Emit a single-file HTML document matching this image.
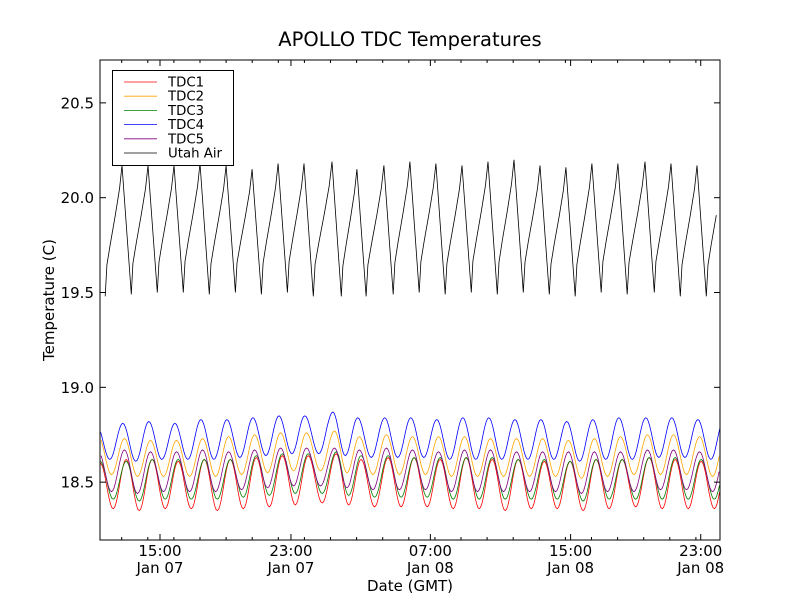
<!DOCTYPE html>
<html><head><meta charset="utf-8"><style>
body{margin:0;background:#fff;}
svg{display:block;font-family:"DejaVu Sans","Liberation Sans",sans-serif;}
</style></head><body>
<svg id="chart" width="800" height="600" viewBox="0 0 800 600">
<rect width="800" height="600" fill="#fff"/>
<text x="410" y="46" font-size="19.5" text-anchor="middle">APOLLO TDC Temperatures</text>
<g id="series"></g>
<g id="axes"></g>
<rect x="100" y="60" width="620" height="480" fill="none" stroke="#000" stroke-width="1"/>
<text x="410" y="591" font-size="15" text-anchor="middle">Date (GMT)</text>
<text x="54" y="300" font-size="15" text-anchor="middle" transform="rotate(-90 54 300)">Temperature (C)</text>
<g id="legend">
<rect x="112.5" y="70.5" width="121" height="95" fill="#fff" stroke="#000" stroke-width="1"/>
</g>
</svg>
<script>
// ---- data ----
const yTicks = [18.5, 19.0, 19.5, 20.0, 20.5];
const xTickHours = [3.55, 11.3, 19.55, 27.85, 35.55];
const xTickTimes = ["15:00", "23:00", "07:00", "15:00", "23:00"];
const xTickDates = ["Jan 07", "Jan 07", "Jan 08", "Jan 08", "Jan 08"];
const airPeakHours = [-0.24,1.30,2.84,4.38,5.92,7.46,9.0,10.54,12.07,13.73,15.2,16.8,18.34,19.88,21.42,22.96,24.5,26.04,27.57,29.11,30.65,32.25,33.79,35.33,36.87];
const airPeaks = [20.17,20.17,20.17,20.17,20.18,20.17,20.15,20.18,20.18,20.19,20.15,20.17,20.19,20.18,20.17,20.19,20.2,20.17,20.16,20.18,20.18,20.19,20.18,20.17,20.17];
const airTroughs = [19.48,19.49,19.50,19.50,19.49,19.50,19.49,19.50,19.48,19.48,19.48,19.49,19.50,19.49,19.50,19.49,19.50,19.49,19.48,19.50,19.49,19.50,19.48,19.48,19.50];
const tdc1Peaks = [18.60,18.62,18.62,18.61,18.62,18.62,18.63,18.64,18.64,18.65,18.62,18.63,18.63,18.62,18.63,18.62,18.62,18.61,18.61,18.62,18.62,18.63,18.62,18.61,18.61];
const tdc1Troughs = [18.36,18.35,18.36,18.36,18.35,18.36,18.37,18.38,18.39,18.38,18.37,18.37,18.37,18.36,18.36,18.35,18.36,18.36,18.35,18.36,18.37,18.36,18.36,18.36,18.36];
const tdc2Peaks = [18.74,18.73,18.72,18.72,18.73,18.74,18.75,18.76,18.76,18.77,18.74,18.75,18.74,18.74,18.74,18.73,18.73,18.73,18.72,18.73,18.74,18.75,18.75,18.74,18.74];
const tdc2Troughs = [18.54,18.53,18.53,18.53,18.53,18.54,18.55,18.56,18.56,18.55,18.54,18.54,18.54,18.53,18.53,18.53,18.53,18.53,18.52,18.53,18.54,18.54,18.54,18.53,18.53];
const tdc3Peaks = [18.61,18.61,18.62,18.62,18.62,18.62,18.64,18.65,18.65,18.66,18.64,18.64,18.63,18.63,18.63,18.63,18.62,18.62,18.61,18.62,18.62,18.63,18.63,18.62,18.62];
const tdc3Troughs = [18.41,18.40,18.41,18.41,18.41,18.42,18.43,18.44,18.44,18.43,18.42,18.42,18.42,18.41,18.41,18.41,18.41,18.41,18.40,18.41,18.41,18.41,18.41,18.41,18.41];
const tdc4Peaks = [18.80,18.81,18.82,18.81,18.83,18.83,18.84,18.85,18.85,18.87,18.84,18.84,18.84,18.83,18.84,18.84,18.83,18.83,18.82,18.83,18.84,18.84,18.84,18.83,18.83];
const tdc4Troughs = [18.62,18.61,18.62,18.62,18.62,18.63,18.64,18.65,18.65,18.64,18.63,18.63,18.63,18.62,18.62,18.62,18.62,18.62,18.61,18.62,18.62,18.63,18.63,18.62,18.62];
const tdc5Peaks = [18.66,18.67,18.66,18.66,18.67,18.66,18.67,18.68,18.68,18.68,18.67,18.68,18.67,18.66,18.67,18.67,18.66,18.66,18.66,18.66,18.66,18.67,18.67,18.66,18.66];
const tdc5Troughs = [18.45,18.44,18.45,18.45,18.45,18.46,18.47,18.48,18.48,18.47,18.46,18.46,18.46,18.45,18.45,18.45,18.45,18.45,18.44,18.45,18.45,18.46,18.46,18.45,18.45];
const seriesNames = ["TDC1","TDC2","TDC3","TDC4","TDC5","Utah Air"];
const seriesColors = ["#ff0000","#ffa500","#008000","#0000ff","#800080","#000000"];

// ---- axes ----
const X0=100, X1=720, Y0=540, Y1=60, H0=0, H1=36.69, V0=18.195, V1=20.726;
const xs = h => X0 + (h-H0)/(H1-H0)*(X1-X0);
const ys = v => Y0 - (v-V0)/(V1-V0)*(Y0-Y1);
const NS="http://www.w3.org/2000/svg";
function mk(tag, attrs, parent){const e=document.createElementNS(NS,tag);for(const k in attrs)e.setAttribute(k,attrs[k]);parent.appendChild(e);return e;}
const axes=document.getElementById('axes');
yTicks.forEach((v,i)=>{
  const y=ys(v);
  const t=mk('line',{x1:X0,x2:X0+6,y1:y,y2:y,stroke:'#000'},axes);
  
  
  const t2=mk('line',{x1:X1-6,x2:X1,y1:y,y2:y,stroke:'#000'},axes);
  
  
  const l=mk('text',{x:X0-6,y:y+5.5,'font-size':15,'text-anchor':'end'},axes);
  l.textContent=v.toFixed(1);
  
  
});
for(let x=121.7;x<X1;x+=26.1){
  const m=mk('line',{x1:x,x2:x,y1:Y0,y2:Y0-3,stroke:'#000'},axes);
  
  
  const m2=mk('line',{x1:x,x2:x,y1:Y1,y2:Y1+3,stroke:'#000'},axes);
  
  
}
xTickHours.forEach((h,i)=>{
  const x=xs(h);
  const t=mk('line',{x1:x,x2:x,y1:Y0,y2:Y0-6,stroke:'#000'},axes);
  
  
  const t2=mk('line',{x1:x,x2:x,y1:Y1,y2:Y1+6,stroke:'#000'},axes);
  
  
  const l=mk('text',{x:x,y:556,'font-size':15,'text-anchor':'middle'},axes);
  l.textContent=xTickTimes[i];
  
  
  const d=mk('text',{x:x,y:573,'font-size':15,'text-anchor':'middle'},axes);
  d.textContent=xTickDates[i];
  
  
});

// ---- series ----
const sg=document.getElementById('series');
function clip(pts){return pts.filter(p=>p[0]>=H0-0.01&&p[0]<=H1+0.01);}
function tdcPoints(peaks,troughs,lag){
  const pts=[];
  for(let i=0;i<airPeakHours.length;i++){
    const tp=airPeakHours[i]+lag;
    const next = i+1<airPeakHours.length ? airPeakHours[i+1]+lag : tp+1.55;
    const tt=tp+(next-tp)*0.5;
    const tn=i+1<airPeakHours.length?peaks[i+1]:peaks[i];
    for(let k=0;k<10;k++){const f=k/10;pts.push([tp+(tt-tp)*f, troughs[i]+(peaks[i]-troughs[i])*(1+Math.cos(Math.PI*f))/2]);}
    for(let k=0;k<10;k++){const f=k/10;pts.push([tt+(next-tt)*f, troughs[i]+(tn-troughs[i])*(1-Math.cos(Math.PI*f))/2]);}
  }
  return pts;
}
function airPoints(){
  const pts=[];const drop=0.55;
  const shape=[[0,0],[0.1,0.24],[0.3,0.4],[0.6,0.62],[0.85,0.82],[1,1]];
  for(let i=0;i<airPeakHours.length;i++){
    const tp=airPeakHours[i];
    pts.push([tp,airPeaks[i]]);
    const tt=tp+drop;
    pts.push([tt,airTroughs[i]]);
    if(i+1<airPeakHours.length){
      const tn=airPeakHours[i+1];
      shape.slice(1,-1).forEach(s=>pts.push([tt+(tn-tt)*s[0], airTroughs[i]+(airPeaks[i+1]-airTroughs[i])*s[1]]));
    }
  }
  return pts;
}
function draw(pts,color,name){
  const d=clip(pts).map((p,i)=>(i?'L':'M')+xs(p[0]).toFixed(1)+' '+ys(p[1]).toFixed(1)).join('');
  const p=mk('path',{d:d,fill:'none',stroke:color,'stroke-width':0.8},sg);
  
  
}
draw(tdcPoints(tdc1Peaks,tdc1Troughs,0.25),seriesColors[0],'tdc1-line');
draw(tdcPoints(tdc2Peaks,tdc2Troughs,0.15),seriesColors[1],'tdc2-line');
draw(tdcPoints(tdc3Peaks,tdc3Troughs,0.25),seriesColors[2],'tdc3-line');
draw(tdcPoints(tdc4Peaks,tdc4Troughs,0.05),seriesColors[3],'tdc4-line');
draw(tdcPoints(tdc5Peaks,tdc5Troughs,0.15),seriesColors[4],'tdc5-line');
draw(airPoints(),seriesColors[5],'utah-air-line');

// ---- legend ----
const lg=document.getElementById('legend');
seriesNames.forEach((n,i)=>{
  const y=82+i*14.2;
  const l=mk('line',{x1:124,x2:157,y1:y,y2:y,stroke:seriesColors[i],'stroke-width':0.8},lg);
  
  
  const t=mk('text',{x:168,y:y+4.5,'font-size':13.3},lg);
  t.textContent=n;
  
  
});
</script>
</body></html>
